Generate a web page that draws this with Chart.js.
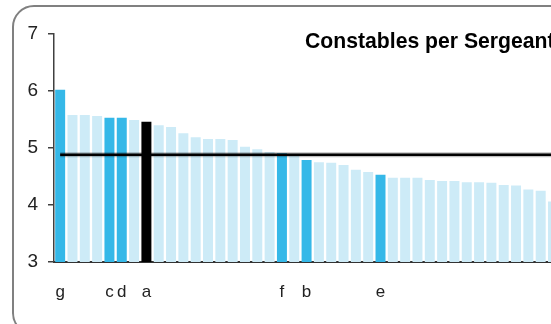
<!DOCTYPE html>
<html>
<head>
<meta charset="utf-8">
<script src="https://cdn.jsdelivr.net/npm/chart.js@4/dist/chart.umd.min.js"></script>
<style>
  html, body { margin: 0; padding: 0; background: #fff; overflow: hidden; }
  #wrap { position: relative; width: 551px; height: 324px; overflow: hidden; }
  #frame { position: absolute; left: 12px; top: 5px; width: 620px; height: 330px;
           border: 2px solid #808080; border-radius: 22px; box-sizing: border-box; }
  #chart { position: absolute; left: 0; top: 0; }
</style>
</head>
<body>
<div id="wrap">
  <div id="frame"></div>
  <canvas id="chart" width="573" height="324"></canvas>
</div>
<script>
// data
const categories = ['g', '', '', '', 'c', 'd', '', 'a', '', '', '', '', '', '', '', '', '', '', 'f', '', 'b',
  '', '', '', '', '', 'e', '', '', '', '', '', '', '', '', '', '', '', '', '', ''];
const constables_per_sergeant = [6.02, 5.58, 5.58, 5.56, 5.53, 5.53, 5.49, 5.46, 5.40, 5.37, 5.26,
  5.19, 5.16, 5.16, 5.14, 5.02, 4.98, 4.93, 4.91, 4.88, 4.79,
  4.75, 4.74, 4.70, 4.62, 4.58, 4.53, 4.48, 4.48, 4.48, 4.44,
  4.42, 4.42, 4.40, 4.40, 4.39, 4.35, 4.34, 4.27, 4.25, 4.06];
const average = 4.88;
const y_ticks = [3, 4, 5, 6, 7];
const chart_title = 'Constables per Sergeant';

// colours
const light_blue = '#cdebf7';
const dark_blue = '#35b8e8';
const bar_colors = categories.map(c => c === 'a' ? '#000000' : (c ? dark_blue : light_blue));

const font = "'Liberation Sans', Arial, sans-serif";

// average line + title
const extras = {
  id: 'extras',
  afterDatasetsDraw(chart) {
    const ctx = chart.ctx;
    const xs = chart.scales.x, ys = chart.scales.y;
    const y = ys.getPixelForValue(average);
    const x0 = xs.getPixelForValue(0);
    ctx.save();
    ctx.strokeStyle = 'rgba(0,0,0,0.25)';
    ctx.lineWidth = 5;
    ctx.beginPath(); ctx.moveTo(x0, y); ctx.lineTo(chart.width, y); ctx.stroke();
    ctx.strokeStyle = '#000';
    ctx.lineWidth = 2.5;
    ctx.beginPath(); ctx.moveTo(x0, y); ctx.lineTo(chart.width, y); ctx.stroke();

    ctx.fillStyle = '#000';
    ctx.font = 'bold 21.2px ' + font;
    ctx.textAlign = 'left';
    ctx.textBaseline = 'alphabetic';
    ctx.fillText(chart_title, 305, 48);
    ctx.restore();
  }
};

const ctx = document.querySelector('#chart').getContext('2d');
const chart = new Chart(ctx, {
  type: 'bar',
  data: {
    labels: categories,
    datasets: [{
      data: constables_per_sergeant,
      backgroundColor: bar_colors,
      borderWidth: 0,
      barPercentage: 0.81,
      categoryPercentage: 1.0
    }]
  },
  options: {
    responsive: false,
    animation: false,
    layout: { padding: { top: 34, right: 0, bottom: 0, left: 1 } },
    plugins: {
      legend: { display: false },
      tooltip: { enabled: false },
      title: { display: false }
    },
    scales: {
      x: {
        grid: { display: false, drawTicks: false },
        border: { display: true, color: '#333', width: 2 },
        ticks: {
          autoSkip: false, maxRotation: 0, padding: 20,
          color: '#222', font: { family: font, size: 17 }
        },
        afterFit(scale) { scale.height = 62; }
      },
      y: {
        min: 3, max: 7,
        afterBuildTicks(scale) { scale.ticks = y_ticks.map(v => ({ value: v })); },
        grid: { drawOnChartArea: false, drawTicks: true, tickLength: 6, color: '#404040', lineWidth: 1.5 },
        border: { display: true, color: '#404040', width: 1.5 },
        ticks: { padding: 10, color: '#222', font: { family: font, size: 19 } },
        afterFit(scale) { scale.width = 53; }
      }
    }
  },
  plugins: [extras]
});
</script>
</body>
</html>
